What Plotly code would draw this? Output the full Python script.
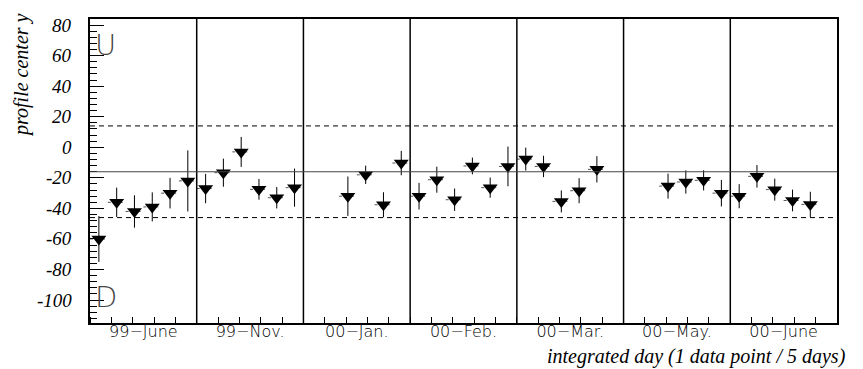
import plotly.graph_objects as go

# ---- data ----
month_labels = ["99\u2212June", "99\u2212Nov.", "00\u2212Jan.", "00\u2212Feb.",
                "00\u2212Mar.", "00\u2212May.", "00\u2212June"]
label_pos = [15, 45, 75, 105, 135, 165, 195]
panel_edges = [30, 60, 90, 120, 150, 180]

day = [2.5, 7.5, 12.5, 17.5, 22.5, 27.5,
       32.5, 37.5, 42.5, 47.5, 52.5, 57.5,
       72.5, 77.5, 82.5, 87.5,
       92.5, 97.5, 102.5, 107.5, 112.5, 117.5,
       122.5, 127.5, 132.5, 137.5, 142.5,
       162.5, 167.5, 172.5, 177.5,
       182.5, 187.5, 192.5, 197.5, 202.5]
center_y = [-60, -36, -42, -39, -30, -22,
            -27, -16.6, -3, -27.5, -33, -26.4,
            -32, -18, -37.6, -10.3,
            -32, -21.2, -34.3, -12.2, -26.4, -12.5,
            -7.7, -12.5, -35.4, -28.4, -14.4,
            -25.4, -22.7, -21.6, -30,
            -32, -19, -27.7, -34.8, -37.4]
err_y = [15, 9.6, 10.6, 9.5, 10, 20,
         9.6, 9.2, 9.8, 6.8, 7, 12.5,
         12.9, 6, 8.2, 8,
         8.7, 8.5, 7.3, 5.5, 6.6, 13,
         7.5, 7, 7.2, 8.2, 8.6,
         8.2, 7.6, 6.6, 8.7,
         7.9, 7.4, 7.2, 7.1, 8.3]
half_bin = 2.5  # days (1 data point / 5 days)

mean_line = -16
band = 30

ytick_vals = [80, 60, 40, 20, 0, -20, -40, -60, -80, -100]
ytick_text = ["80", "60", "40", "20", "0", "-20", "-40", "-60", "-80", "-100"]

# page body has an 8px margin: compensate so the plot lands where the reference has it
OFF = 8
W, H = 863 - OFF, 369 - OFF
L, R, T, B = 90 - OFF, 26, 19 - OFF, 46
PW, PH = W - L - R, H - T - B

fig = go.Figure()

# dotted horizontal (x) error bars
xs, ys = [], []
for d, v in zip(day, center_y):
    xs += [d - half_bin, d + half_bin, None]
    ys += [v, v, None]
fig.add_trace(go.Scatter(x=xs, y=ys, mode="lines",
                         line=dict(color="#555555", width=1, dash="dot"),
                         hoverinfo="skip", showlegend=False))

fig.add_trace(go.Scatter(
    x=day, y=center_y, mode="markers",
    marker=dict(symbol="triangle-down", size=13, color="black",
                line=dict(width=0)),
    error_y=dict(type="data", array=err_y, visible=True,
                 color="black", thickness=1, width=0),
    showlegend=False))

serif = "Liberation Serif"

shapes = []
for e in panel_edges:
    shapes.append(dict(type="line", xref="x", yref="paper", x0=e, x1=e, y0=0, y1=1,
                       line=dict(color="black", width=1.5)))
shapes.append(dict(type="line", xref="paper", yref="y", x0=0, x1=1,
                   y0=mean_line, y1=mean_line, line=dict(color="#444444", width=1)))
for yy in (mean_line + band, mean_line - band):
    shapes.append(dict(type="line", xref="paper", yref="y", x0=0, x1=1,
                       y0=yy, y1=yy, line=dict(color="black", width=1, dash="5px,4px")))


def px_x(px):
    return (px - 90) / PW


def px_y(py):
    return (323 - py) / PH


annotations = [
    dict(text="<i>profile center y</i>", xref="paper", yref="paper",
         x=px_x(22), y=px_y(11), xanchor="center", yanchor="top",
         textangle=-90, showarrow=False,
         font=dict(family=serif, size=20, style="italic", color="black")),
    dict(text="<i>integrated day (1 data point / 5 days)</i>", xref="paper", yref="paper",
         x=px_x(848), y=px_y(356), xanchor="right", yanchor="middle",
         showarrow=False,
         font=dict(family=serif, size=20, style="italic", color="black")),
    dict(text="U", xref="paper", yref="paper", x=px_x(105.5), y=px_y(45),
         xanchor="center", yanchor="middle", showarrow=False,
         font=dict(family="DejaVu Sans", size=29, weight=200, color="#444444")),
    dict(text="D", xref="paper", yref="paper", x=px_x(105.5), y=px_y(297),
         xanchor="center", yanchor="middle", showarrow=False,
         font=dict(family="DejaVu Sans", size=29, weight=200, color="#444444")),
]
# y-axis tick labels (serif italic), placed on the y scale
for v, t in zip(ytick_vals, ytick_text):
    annotations.append(dict(text="<i>" + t + "</i>", xref="paper", yref="y",
                            x=px_x(74), y=v, xanchor="right", yanchor="middle",
                            showarrow=False,
                            font=dict(family=serif, size=19, style="italic",
                                      color="black")))

fig.update_layout(
    width=W, height=H,
    margin=dict(l=L, r=R, t=T, b=B, autoexpand=False),
    paper_bgcolor="white", plot_bgcolor="white",
    shapes=shapes, annotations=annotations,
    xaxis=dict(range=[0, 210], showgrid=False, zeroline=False,
               showline=True, mirror=True, linecolor="black", linewidth=1.5,
               tickmode="array", tickvals=label_pos, ticktext=month_labels,
               ticks="", ticklen=0, ticklabelstandoff=-7,
               tickfont=dict(family="DejaVu Sans", size=16, weight=300, color="black"),
               minor=dict(tickmode="linear", tick0=0, dtick=6, ticks="inside",
                          ticklen=6, tickcolor="black", tickwidth=1, showgrid=False)),
    yaxis=dict(range=[-115, 84], showgrid=False, zeroline=False,
               showline=True, mirror=True, linecolor="black", linewidth=1.5,
               tickmode="array", tickvals=ytick_vals, showticklabels=False,
               ticks="inside", ticklen=14, tickwidth=1, tickcolor="black",
               minor=dict(tickmode="linear", tick0=0, dtick=4, ticks="inside",
                          ticklen=7, tickcolor="black", tickwidth=1, showgrid=False)),
)

fig.write_html("out.html")
